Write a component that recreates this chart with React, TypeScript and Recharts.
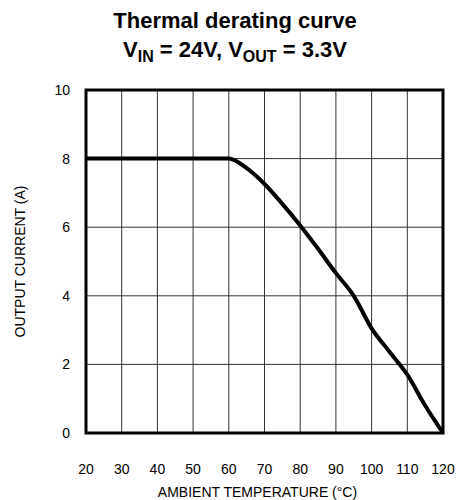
import React from "react";
import {
  CartesianGrid,
  Label,
  Line,
  LineChart,
  ReferenceArea,
  XAxis,
  YAxis
} from "recharts";

// derating curve
const temperatures = [20, 60, 65, 70, 75, 80, 85, 90, 95, 100, 105, 110, 115, 120];
const currents = [8, 8, 7.72, 7.26, 6.68, 6.05, 5.37, 4.66, 4.0, 3.05, 2.37, 1.7, 0.8, 0];

const xTicks = [20, 30, 40, 50, 60, 70, 80, 90, 100, 110, 120];
const yTicks = [0, 2, 4, 6, 8, 10];

const font = "'Liberation Sans', Arial, Helvetica, sans-serif";

const data = temperatures.map((t, i) => ({ temp: t, current: currents[i] }));

function YTitle({ viewBox }: any) {
  const cy = viewBox.y + viewBox.height / 2;
  return (
    <text
      x={20}
      y={cy}
      transform={`rotate(-90, 20, ${cy})`}
      textAnchor="middle"
      dominantBaseline="central"
      fontSize={14}
      fontFamily={font}
      fill="#000"
    >
      OUTPUT CURRENT (A)
    </text>
  );
}

function XTitle({ viewBox }: any) {
  return (
    <text
      x={viewBox.x + viewBox.width / 2 - 7}
      y={497}
      textAnchor="middle"
      fontSize={14}
      fontFamily={font}
      fill="#000"
    >
      AMBIENT TEMPERATURE (°C)
    </text>
  );
}

export default function App() {
  return (
    <div style={{ position: "absolute", left: 0, top: 0, width: 461, height: 500, background: "#fff" }}>
      <svg width={461} height={70} style={{ position: "absolute", left: 0, top: 0 }}>
        <text x={235} y={28} textAnchor="middle" fontSize={22} fontWeight="bold" fontFamily={font}>
          Thermal derating curve
        </text>
        <text x={235} y={57} textAnchor="middle" fontSize={22} fontWeight="bold" fontFamily={font}>
          V<tspan fontSize={16} dy={5}>IN</tspan>
          <tspan dy={-5}> = 24V, V</tspan>
          <tspan fontSize={16} dy={5}>OUT</tspan>
          <tspan dy={-5}> = 3.3V</tspan>
        </text>
      </svg>
      <LineChart
        width={461}
        height={500}
        data={data}
        margin={{ top: 90, right: 18, left: 0, bottom: 0 }}
        style={{ fontFamily: font }}
      >
        <CartesianGrid stroke="#333" strokeWidth={1} />
        <XAxis
          dataKey="temp"
          type="number"
          domain={[20, 120]}
          ticks={xTicks}
          height={67}
          tickLine={false}
          axisLine={false}
          tickSize={6}
          tickMargin={25}
          tick={{ fill: "#000", fontSize: 14 }}
        >
          <Label content={<XTitle />} />
        </XAxis>
        <YAxis
          type="number"
          domain={[0, 10]}
          ticks={yTicks}
          width={86}
          tickLine={false}
          axisLine={false}
          tickSize={6}
          tickMargin={10}
          tick={{ fill: "#000", fontSize: 14 }}
        >
          <Label content={<YTitle />} />
        </YAxis>
        <ReferenceArea
          x1={20}
          x2={120}
          y1={0}
          y2={10}
          fill="none"
          fillOpacity={0}
          stroke="#000"
          strokeWidth={3}
          strokeOpacity={1}
        />
        <Line
          type="monotone"
          dataKey="current"
          stroke="#000"
          strokeWidth={4}
          dot={false}
          isAnimationActive={false}
        />
      </LineChart>
    </div>
  );
}
